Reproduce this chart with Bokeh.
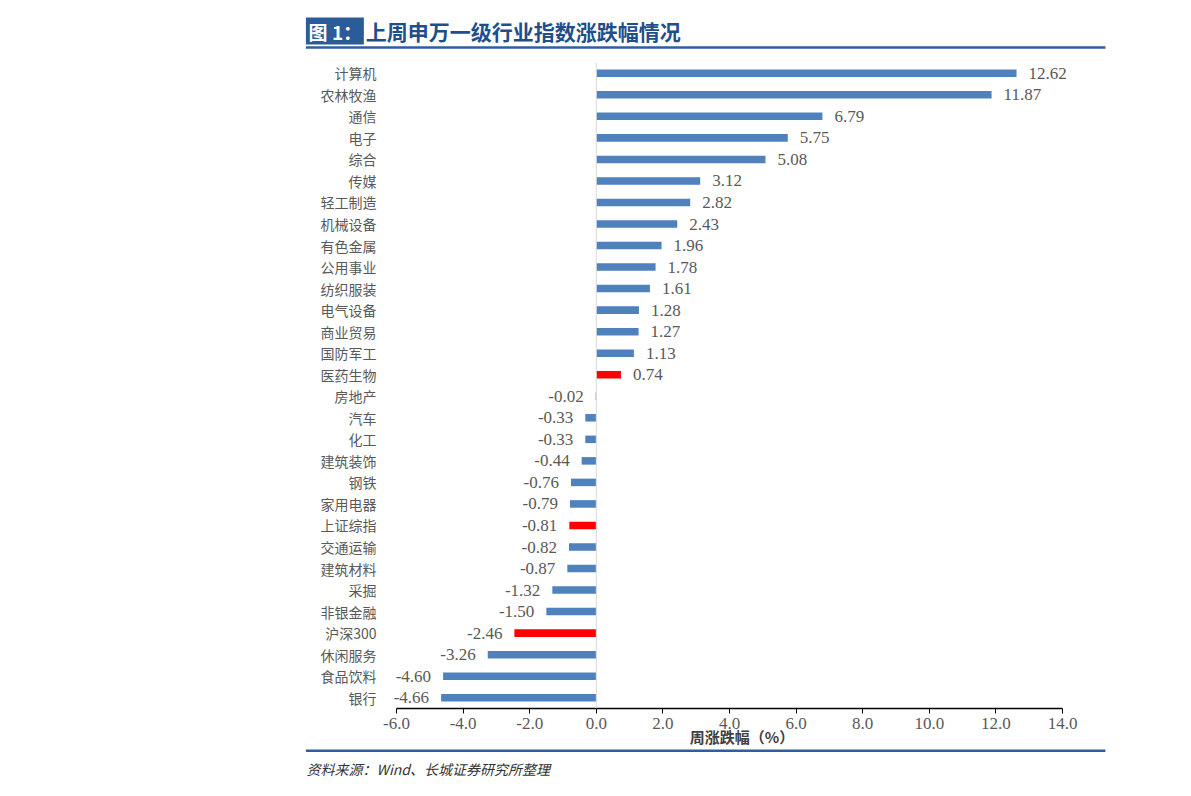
from bokeh.plotting import figure
from bokeh.models import ColumnDataSource, FactorRange, Span, FixedTicker, PrintfTickFormatter
from bokeh.embed import file_html
from bokeh.resources import INLINE
from bokeh.core.properties import value

categories = ["计算机", "农林牧渔", "通信", "电子", "综合", "传媒", "轻工制造", "机械设备",
              "有色金属", "公用事业", "纺织服装", "电气设备", "商业贸易", "国防军工", "医药生物",
              "房地产", "汽车", "化工", "建筑装饰", "钢铁", "家用电器", "上证综指", "交通运输",
              "建筑材料", "采掘", "非银金融", "沪深300", "休闲服务", "食品饮料", "银行"]
changes = [12.62, 11.87, 6.79, 5.75, 5.08, 3.12, 2.82, 2.43,
           1.96, 1.78, 1.61, 1.28, 1.27, 1.13, 0.74,
           -0.02, -0.33, -0.33, -0.44, -0.76, -0.79, -0.81, -0.82,
           -0.87, -1.32, -1.50, -2.46, -3.26, -4.60, -4.66]
highlight = ["医药生物", "上证综指", "沪深300"]
x_ticks = [-6, -4, -2, 0, 2, 4, 6, 8, 10, 12, 14]

title_tag = "图 1："
title_text = "上周申万一级行业指数涨跌幅情况"
x_title = "周涨跌幅（%）"
source_note = "资料来源：Wind、长城证券研究所整理"

BLUE = "#4F81BD"
RED = "#FF0000"
GRAY = "#595959"
NAVY = "#1F4E8C"
CJK = "Noto Sans CJK SC"
NUM = "Liberation Serif"

colors = [RED if c in highlight else BLUE for c in categories]
labels = [f"{v:.2f}" for v in changes]

src = ColumnDataSource(dict(cat=categories, val=changes, color=colors))
pos = ColumnDataSource(dict(
    cat=[c for c, v in zip(categories, changes) if v >= 0],
    val=[v for v in changes if v >= 0],
    label=[l for l, v in zip(labels, changes) if v >= 0]))
neg = ColumnDataSource(dict(
    cat=[c for c, v in zip(categories, changes) if v < 0],
    val=[v for v in changes if v < 0],
    label=[l for l, v in zip(labels, changes) if v < 0]))

p = figure(width=1183, height=788,
           x_range=(-6, 14),
           y_range=FactorRange(factors=list(reversed(categories)), range_padding=0),
           output_backend="svg", toolbar_location=None,
           min_border_left=396, min_border_right=121, min_border_top=62, min_border_bottom=80)

p.outline_line_color = None
p.xgrid.visible = False
p.ygrid.visible = False
p.background_fill_color = "white"
p.border_fill_color = "white"

p.add_layout(Span(location=0, dimension="height", line_color="#D9D9D9", line_width=1))

p.hbar(y="cat", left=0, right="val", height=0.35, fill_color="color", line_color=None, source=src)

# value labels (overlay level so they are not clipped by the frame)
for s, off, align in ((pos, 12, "left"), (neg, -12, "right")):
    p.text(x="val", y="cat", text="label", source=s, x_offset=off,
           text_align=align, text_baseline="middle",
           text_font=value(NUM), text_font_size="17px", text_color=GRAY, level="overlay")

# axes
p.xaxis.ticker = FixedTicker(ticks=x_ticks)
p.xaxis.formatter = PrintfTickFormatter(format="%.1f")
p.xaxis.axis_line_color = "#000000"
p.xaxis.axis_line_width = 1.5
p.xaxis.major_tick_line_color = "#000000"
p.xaxis.major_tick_out = 5
p.xaxis.major_tick_in = 0
p.xaxis.minor_tick_line_color = None
p.xaxis.major_label_standoff = 4
p.xaxis.major_label_text_font = NUM
p.xaxis.major_label_text_font_size = "17px"
p.xaxis.major_label_text_color = GRAY

p.yaxis.axis_line_color = None
p.yaxis.major_tick_line_color = None
p.yaxis.minor_tick_line_color = None
p.yaxis.major_label_standoff = 14
p.yaxis.major_label_text_font = CJK
p.yaxis.major_label_text_font_size = "14px"
p.yaxis.major_label_text_color = GRAY

# header / footer (drawn on overlay level so they sit outside the frame)
p.quad(left=[-8.72], right=[-6.98], top=[32.09], bottom=[30.84],
       fill_color="#2B5C9A", line_color=None, level="overlay")
p.text(x=[-8.64], y=[31.44], text=[title_tag], text_color="white", text_font=value(CJK),
       text_font_style="bold", text_font_size="19px", text_baseline="middle",
       text_align="left", level="overlay")
p.text(x=[-6.92], y=[31.44], text=[title_text], text_color=NAVY, text_font=value(CJK),
       text_font_style="bold", text_font_size="21px", text_baseline="middle",
       text_align="left", level="overlay")
p.segment(x0=[-8.72, -8.72], x1=[15.29, 15.29], y0=[30.70, -1.96], y1=[30.70, -1.96],
          line_color="#2E5E9E", line_width=2.5, level="overlay")
p.text(x=[4.375], y=[-1.31], text=[x_title], text_color="#404040", text_font=value(CJK),
       text_font_style="bold", text_font_size="15px", text_align="center",
       text_baseline="middle", level="overlay")
p.text(x=[-8.7], y=[-2.8], text=[source_note], text_color="#333333", text_font=value(CJK),
       text_font_style="italic", text_font_size="14px", text_align="left",
       text_baseline="middle", level="overlay")

open("out.html", "w").write(file_html(p, INLINE))
